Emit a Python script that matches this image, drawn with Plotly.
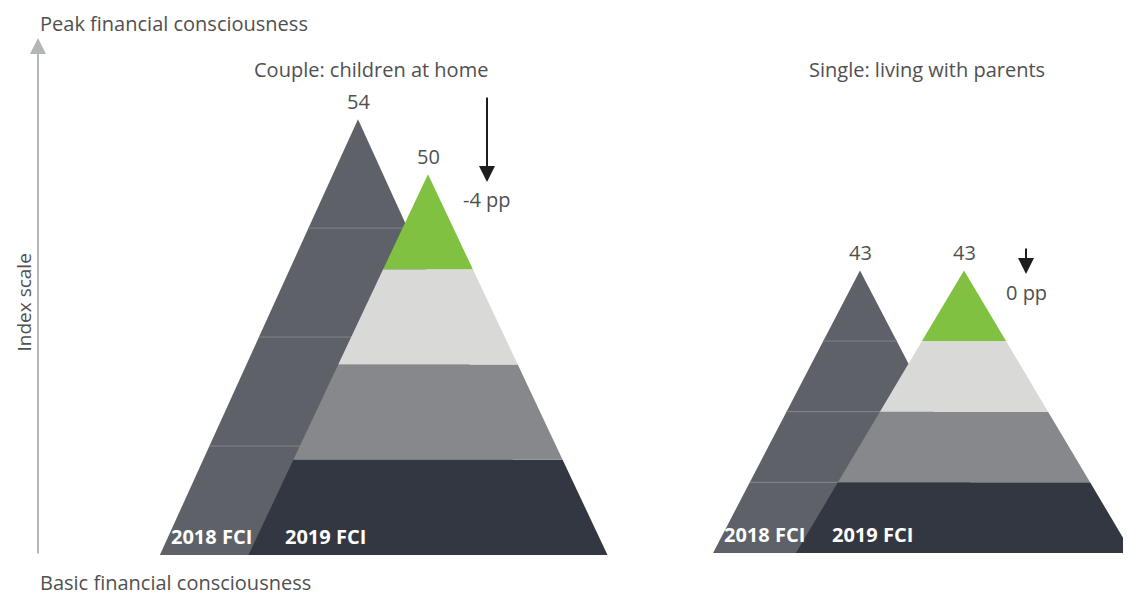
import plotly.graph_objects as go

# data
panels = ["Couple: children at home", "Single: living with parents"]
fci_2018 = [54, 43]
fci_2019 = [50, 43]
change_labels = ["-4 pp", "0 pp"]
year_labels = ["2018 FCI", "2019 FCI"]

# styling / layout (x in pixel-like units, y in index points)
BASE = [22.3, 22.45]
CENTER_2018 = [358, 860]
CENTER_2019 = [428, 964]
SLOPE_2018 = [6.25, 7.15]
SLOPE_2019 = [6.48, 8.18]
N_BANDS = 4
COL_2018 = "#5e6168"
COL_SEP = "#80838a"
COLS_2019 = ["#333741", "#86888c", "#d9d9d7", "#80c141"]
TXT = "#505050"
FONT = "Open Sans"
FS = 20
W, H = 1131, 597
OFF = 8  # page body margin


def py(ypix):
    # paper y for a pixel row of the final page
    return 1 - (ypix - OFF) / H


def band(center, slope, top, base, i):
    y0 = base + (top - base) * i / N_BANDS
    y1 = base + (top - base) * (i + 1) / N_BANDS
    hw0, hw1 = slope * (top - y0), slope * (top - y1)
    xs = [center - hw0, center + hw0, center + hw1, center - hw1, center - hw0]
    ys = [y0, y0, y1, y1, y0]
    return xs, ys


fig = go.Figure()

for p in range(len(panels)):
    base = BASE[p]
    # 2018 pyramid (behind)
    for i in range(N_BANDS):
        xs, ys = band(CENTER_2018[p], SLOPE_2018[p], fci_2018[p], base, i)
        fig.add_trace(go.Scatter(x=xs, y=ys, fill="toself", fillcolor=COL_2018,
                                 mode="lines", line=dict(width=0), hoverinfo="skip"))
    sx, sy = [], []
    for i in range(1, N_BANDS):
        xs, ys = band(CENTER_2018[p], SLOPE_2018[p], fci_2018[p], base, i)
        sx += [xs[0], xs[1], None]
        sy += [ys[0], ys[1], None]
    fig.add_trace(go.Scatter(x=sx, y=sy, mode="lines", line=dict(color=COL_SEP, width=1),
                             hoverinfo="skip"))
    # 2019 pyramid (front)
    for i in range(N_BANDS):
        xs, ys = band(CENTER_2019[p], SLOPE_2019[p], fci_2019[p], base, i)
        fig.add_trace(go.Scatter(x=xs, y=ys, fill="toself", fillcolor=COLS_2019[i],
                                 mode="lines", line=dict(width=0), hoverinfo="skip"))

    # value labels on apexes
    for cx, v in [(CENTER_2018[p], fci_2018[p]), (CENTER_2019[p], fci_2019[p])]:
        fig.add_annotation(x=cx, y=v, text=str(v), showarrow=False, yanchor="bottom",
                           yshift=2, font=dict(family=FONT, size=FS, color=TXT))

    # year labels at the base
    left18 = CENTER_2018[p] - SLOPE_2018[p] * (fci_2018[p] - base)
    left19 = CENTER_2019[p] - SLOPE_2019[p] * (fci_2019[p] - base)
    for lx, off, txt in [(left18, 9, year_labels[0]), (left19, 34, year_labels[1])]:
        fig.add_annotation(x=lx + off, y=base, text=f"<b>{txt}</b>", showarrow=False,
                           xanchor="left", yanchor="bottom", yshift=3,
                           font=dict(family=FONT, size=FS, color="white"))

# panel titles
for tx, t in zip([371, 927], panels):
    fig.add_annotation(x=tx, y=py(69), yref="paper", text=t, showarrow=False,
                       xanchor="center", yanchor="middle",
                       font=dict(family=FONT, size=FS, color=TXT))

# change arrows
for ax_x, tip_y, length, lab_y, lab in [(487, 182, 86, 199, change_labels[0]),
                                        (1026, 274, 27, 292, change_labels[1])]:
    fig.add_annotation(x=ax_x, y=py(tip_y), yref="paper", ax=0, ay=-length,
                       text="", showarrow=True, arrowhead=2, arrowsize=1.6,
                       arrowwidth=2, arrowcolor="#1e1e1e")
    fig.add_annotation(x=ax_x, y=py(lab_y), yref="paper", text=lab, showarrow=False,
                       xanchor="center", yanchor="middle",
                       font=dict(family=FONT, size=FS, color=TXT))

# index scale axis arrow
fig.add_annotation(x=38, y=py(38), yref="paper", ax=0, ay=517, text="",
                   showarrow=True, arrowhead=2, arrowsize=1.6, arrowwidth=2,
                   arrowcolor="#b3b5b7")
fig.add_annotation(x=38, y=1, yref="paper", text="Peak financial consciousness",
                   showarrow=False, xanchor="left", yanchor="top",
                   font=dict(family=FONT, size=FS, color=TXT))
fig.add_annotation(x=38, y=py(582), yref="paper", text="Basic financial consciousness",
                   showarrow=False, xanchor="left", yanchor="middle",
                   font=dict(family=FONT, size=FS, color=TXT))
fig.add_annotation(x=0, y=0.5, xref="paper", yref="paper", yshift=4,
                   text="Index scale", textangle=-90,
                   showarrow=False, xanchor="left", yanchor="middle",
                   font=dict(family=FONT, size=19, color=TXT))

fig.update_layout(
    width=W, height=H, margin=dict(l=0, r=0, t=0, b=0),
    plot_bgcolor="white", paper_bgcolor="white", showlegend=False,
    xaxis=dict(range=[OFF, OFF + W], visible=False, fixedrange=True),
    yaxis=dict(range=[22.3 - (H + OFF - 555) / 13.75, 22.3 + (555 - OFF) / 13.75],
               visible=False, fixedrange=True),
)

fig.write_html("out.html")
